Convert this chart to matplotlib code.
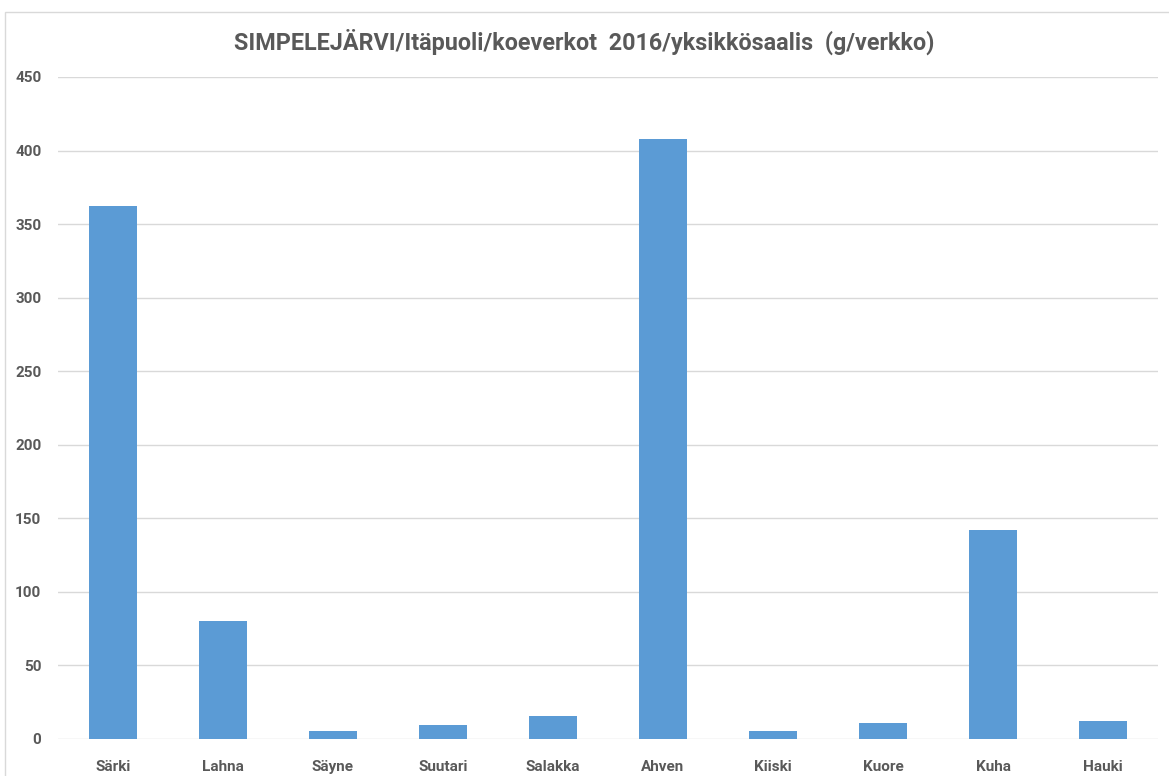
import matplotlib.pyplot as plt
from matplotlib.patches import Rectangle

species = ['Särki', 'Lahna', 'Säyne', 'Suutari', 'Salakka', 'Ahven', 'Kiiski', 'Kuore', 'Kuha', 'Hauki']
catch_g = [362.3, 80.2, 5.4, 9.3, 15.9, 407.9, 5.4, 11.1, 142.1, 12.0]
yticks = [0, 50, 100, 150, 200, 250, 300, 350, 400, 450]

plt.rcParams['font.family'] = ['Roboto', 'DejaVu Sans']
grey = '#595959'

fig = plt.figure(figsize=(11.69, 7.76), dpi=100)
ax = fig.add_axes([0.0496, 0.0477, 0.941, 0.8531])

ax.bar(range(len(species)), catch_g, width=0.44, color='#5B9BD5', zorder=3)
ax.set_xlim(-0.5, len(species) - 0.5)
ax.set_ylim(0, 450)
ax.set_yticks(yticks)
ax.set_xticks(range(len(species)))
ax.set_xticklabels(species, fontsize=11, fontweight='bold', color=grey)
ax.set_yticklabels([str(t) for t in yticks], fontsize=11, fontweight='bold', color=grey)
ax.tick_params(length=0)
ax.tick_params(axis='y', pad=12)
ax.tick_params(axis='x', pad=15)
ax.grid(axis='y', color='#D9D9D9', linewidth=1, zorder=0)
for s in ax.spines.values():
    s.set_visible(False)

fig.text(0.5, 0.946, 'SIMPELEJÄRVI/Itäpuoli/koeverkot  2016/yksikkösaalis  (g/verkko)',
         ha='center', va='center', fontsize=16.8, fontweight='bold', color=grey)

# outer chart frame
fig.patches.append(Rectangle((5 / 1169, -0.01), 1.02, 1 - 12 / 776 + 0.01,
                             transform=fig.transFigure, fill=False,
                             edgecolor='#D9D9D9', linewidth=1))

fig.savefig('out.png', dpi=100)
